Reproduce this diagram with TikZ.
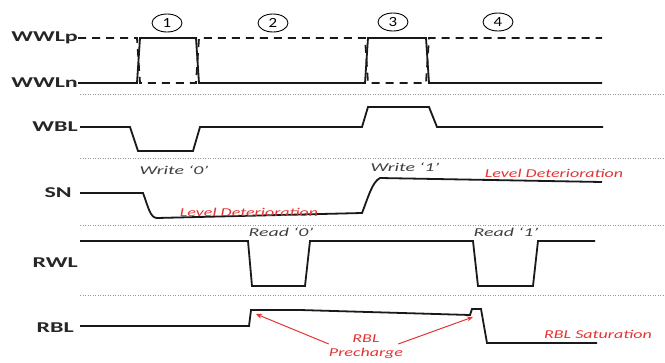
\documentclass[tikz,border=0pt]{standalone}
\usepackage{fontspec}
\setmainfont{Carlito}
\usetikzlibrary{arrows.meta,shapes.geometric}
\definecolor{lred}{RGB}{228,52,52}
\definecolor{sepgray}{RGB}{150,150,150}
\newcommand{\wlab}[1]{\scalebox{1.6}[1]{#1}}
\newcommand{\wnote}[1]{\scalebox{1.65}[1]{#1}}
\newcommand{\wred}[1]{\scalebox{1.5}[1]{#1}}
\begin{document}
\begin{tikzpicture}[x=1pt,y=-1pt,
  lab/.style={font=\fontsize{15}{15}\selectfont\bfseries, text=black!85, inner sep=0pt, anchor=east},
  sig/.style={line width=1.8pt, black!90, line join=miter},
  dsig/.style={line width=1.8pt, black!90, dash pattern=on 8pt off 6pt},
  sep/.style={sepgray, line width=0.6pt, dash pattern=on 1.2pt off 1.3pt},
  note/.style={font=\fontsize{12}{12}\selectfont\itshape, text=black!75, inner sep=0pt},
  rnote/.style={font=\fontsize{12}{13}\selectfont\itshape, text=lred, inner sep=0pt, align=center},
  circnum/.style={ellipse, draw, line width=0.9pt, minimum width=30pt, minimum height=18pt, inner sep=0pt, font=\fontsize{14}{14}\selectfont},
  rarrow/.style={lred, line width=1pt, -{Stealth[length=6pt,width=5pt]}}
]
\useasboundingbox[fill=white] (0,0) rectangle (665,362);

% circled phase numbers
\node[circnum] (n1) at (167,23) {\scalebox{1.2}[1]{1}};
\node[circnum] (n2) at (273,23) {\scalebox{1.2}[1]{2}};
\node[circnum] (n3) at (393,22) {\scalebox{1.2}[1]{3}};
\node[circnum] (n4) at (498,22) {\scalebox{1.2}[1]{4}};

% labels
\node[lab] (wwlp) at (78,38) {\wlab{WWLp}};
\node[lab] (wwln) at (78,83) {\wlab{WWLn}};
\node[lab] (wbl) at (78,127) {\wlab{WBL}};
\node[lab] (sn) at (72,193) {\wlab{SN}};
\node[lab] (rwl) at (78,263) {\wlab{RWL}};
\node[lab] (rbl) at (74,328) {\wlab{RBL}};

% separators
\coordinate (s1a) at (80,94);  \coordinate (s1b) at (665,94);
\coordinate (s2a) at (80,158); \coordinate (s2b) at (665,158);
\coordinate (s3a) at (80,225); \coordinate (s3b) at (665,225);
\coordinate (s4a) at (80,295); \coordinate (s4b) at (665,295);
\draw[sep] (s1a) -- (s1b);
\draw[sep] (s2a) -- (s2b);
\draw[sep] (s3a) -- (s3b);
\draw[sep] (s4a) -- (s4b);

% WWLp (dashed) and WWLn (solid)
\draw[dsig] (wwlp.east) -- (137,38) -- (140,83) -- (196,83) -- (199,38) -- (365,38) -- (368,83) -- (426,83) -- (429,38) -- (602,38);
\draw[sig] (wwln.east) -- (137,83) -- (140,38) -- (196,38) -- (199,83) -- (365,83) -- (368,38) -- (426,38) -- (429,83) -- (602,83);

% WBL
\draw[sig] (wbl.east) ++(2,0) -- (130,127) -- (138,151) -- (193,151) -- (200,127) -- (362,127) -- (368,107) -- (429,107) -- (437,127) -- (603,127);

% SN
\draw[sig] (sn.east) ++(8,0) -- (143,193) .. controls (148,206) and (150,218) .. (157,218) -- (362,213) .. controls (368,198) and (372,182) .. (380,178) -- (602,182);

% RWL
\draw[sig] (80,241) -- (248,241) -- (252,286) -- (305,286) -- (310,241) -- (473,241) -- (478,286) -- (533,286) -- (538,241) -- (595,241);

% RBL
\draw[sig] (rbl.east) ++(6,-2) -- (249,326) -- (251,310) -- (300,310) -- (470,315) -- (472,309) -- (481,309) -- (487,343) -- (597,343);

% notes
\node[note] (w0) at (174,170) {\wnote{Write `0'}};
\node[note] (w1) at (405,167) {\wnote{Write `1'}};
\node[note] (r0) at (281,232) {\wnote{Read `0'}};
\node[note] (r1) at (506,232) {\wnote{Read `1'}};
\node[rnote] (ld1) at (554,173) {\wred{Level Deterioration}};
\node[rnote] (ld2) at (249,212) {\wred{Level Deterioration}};
\node[rnote] (rs) at (598,334) {\wred{RBL Saturation}};
\node[rnote] (pre) at (366,347) {\wred{RBL}\\[1pt]\wred{Precharge}};

\coordinate (t1) at (256,314);
\coordinate (t2) at (473,317);
\draw[rarrow] (pre.west) ++(0,-3) -- (t1);
\draw[rarrow] (pre.east) ++(-5,-3) -- (t2);
\end{tikzpicture}
\end{document}
